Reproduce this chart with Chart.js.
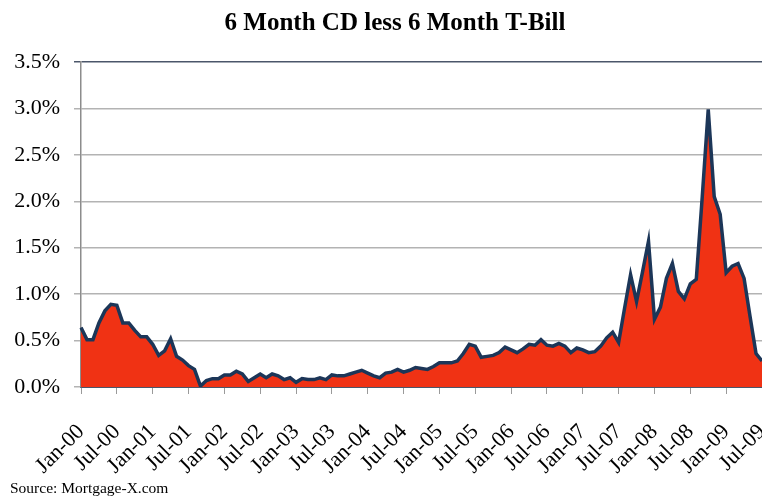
<!DOCTYPE html>
<html>
<head>
<meta charset="utf-8">
<script src="https://cdn.jsdelivr.net/npm/chart.js"></script>
<style>
    html, body { margin: 0; padding: 0; background: #fff; }
</style>
</head>
<body>
<canvas id="myChart" width="762" height="496"></canvas>
<script>
// monthly spread, percent (6 month CD minus 6 month T-Bill)
const monthNames = ["Jan", "Feb", "Mar", "Apr", "May", "Jun", "Jul", "Aug", "Sep", "Oct", "Nov", "Dec"];
const years = ["00", "01", "02", "03", "04", "05", "06", "07", "08", "09"];

const spread2000 = [0.64, 0.51, 0.51, 0.69, 0.82, 0.89, 0.88, 0.69, 0.69, 0.61, 0.54, 0.54];
const spread2001 = [0.46, 0.34, 0.39, 0.52, 0.33, 0.29, 0.23, 0.19, 0.01, 0.07, 0.09, 0.09];
const spread2002 = [0.13, 0.13, 0.17, 0.14, 0.06, 0.10, 0.14, 0.10, 0.14, 0.12, 0.08, 0.10];
const spread2003 = [0.05, 0.09, 0.08, 0.08, 0.10, 0.08, 0.13, 0.12, 0.12, 0.14, 0.16, 0.18];
const spread2004 = [0.15, 0.12, 0.10, 0.15, 0.16, 0.19, 0.16, 0.18, 0.21, 0.20, 0.19, 0.22];
const spread2005 = [0.26, 0.26, 0.26, 0.28, 0.36, 0.46, 0.44, 0.32, 0.33, 0.34, 0.37, 0.43];
const spread2006 = [0.40, 0.37, 0.41, 0.46, 0.45, 0.51, 0.45, 0.44, 0.47, 0.44, 0.37, 0.42];
const spread2007 = [0.40, 0.37, 0.38, 0.44, 0.53, 0.59, 0.48, 0.85, 1.21, 0.92, 1.24, 1.57];
const spread2008 = [0.73, 0.86, 1.17, 1.33, 1.03, 0.95, 1.11, 1.16, 2.05, 2.99, 2.05, 1.86];
const spread2009 = [1.23, 1.30, 1.33, 1.17, 0.76, 0.36, 0.28];

const spread = [].concat(spread2000, spread2001, spread2002, spread2003, spread2004,
    spread2005, spread2006, spread2007, spread2008, spread2009);

const labels = [];
for (let i = 0; i < spread.length; i++) {
    labels.push(monthNames[i % 12] + "-" + years[Math.floor(i / 12)]);
}

const serif = "'Times New Roman', 'Liberation Serif', serif";

// title and source line
const textPlugin = {
    id: "texts",
    afterDraw(chart) {
        const c = chart.ctx;
        c.save();
        c.fillStyle = "#000";
        c.textAlign = "center";
        c.textBaseline = "alphabetic";
        c.font = "bold 25px " + serif;
        c.fillText("6 Month CD less 6 Month T-Bill", 395, 30);
        c.textAlign = "left";
        c.font = "15.5px " + serif;
        c.fillText("Source: Mortgage-X.com", 10, 493);
        c.restore();
    }
};

const ctx = document.getElementById("myChart").getContext("2d");
new Chart(ctx, {
    type: "line",
    data: {
        labels: labels,
        datasets: [{
            label: "6 Month CD less 6 Month T-Bill",
            data: spread,
            fill: "origin",
            backgroundColor: "#f03214",
            borderColor: "#1c3658",
            borderWidth: 3.5,
            pointRadius: 0,
            tension: 0
        }]
    },
    options: {
        responsive: false,
        animation: false,
        layout: { padding: { top: 62, left: 0, right: 0, bottom: 0 } },
        plugins: {
            legend: { display: false },
            tooltip: { enabled: false }
        },
        scales: {
            x: {
                type: "category",
                offset: false,
                border: { color: "#4b566a", width: 2 },
                grid: {
                    drawOnChartArea: false,
                    drawTicks: true,
                    tickLength: 7,
                    color: (c) => (c.index % 6 === 0 ? "#9a9a9a" : "rgba(0,0,0,0)")
                },
                ticks: {
                    autoSkip: false,
                    maxRotation: 45,
                    minRotation: 45,
                    padding: 25,
                    color: "#000",
                    font: { family: serif, size: 22 },
                    callback: (v, i) => (i % 6 === 0 ? labels[i] : "")
                },
                afterFit(scale) {
                    scale.height = 109;
                    scale.paddingRight = 0;
                }
            },
            y: {
                min: 0,
                max: 3.5,
                border: { color: "#8c8c8c", width: 1.5 },
                grid: {
                    tickLength: 7,
                    lineWidth: 1.5,
                    color: (c) => (c.tick && c.tick.value === 3.5 ? "#4b566a" : "#b3b3b3")
                },
                ticks: {
                    stepSize: 0.5,
                    padding: 14,
                    color: "#000",
                    font: { family: serif, size: 22 },
                    callback: (v) => v.toFixed(1) + "%"
                },
                afterFit(scale) {
                    scale.width = 81;
                }
            }
        }
    },
    plugins: [textPlugin]
});
</script>
</body>
</html>
